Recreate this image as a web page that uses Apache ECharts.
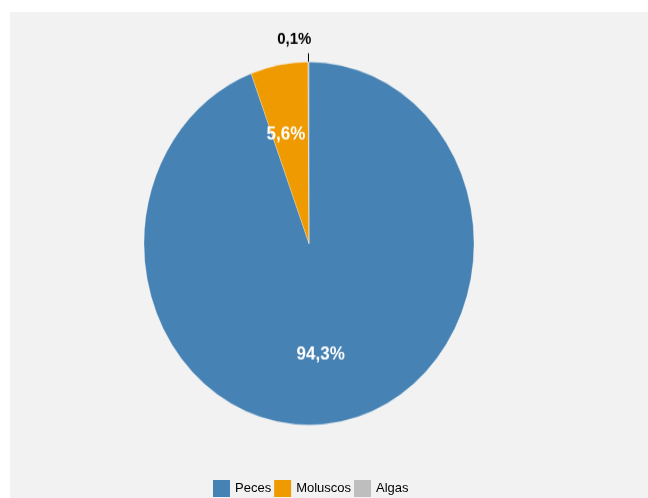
<!DOCTYPE html>
<html>
<head>
<meta charset="utf-8">
<script src="https://cdn.jsdelivr.net/npm/echarts@6/dist/echarts.min.js"></script>
<style>
  html, body { margin: 0; padding: 0; background: #fff; }
  .layer { position: absolute; left: 0; top: 0; width: 648px; height: 498px; }
  /* the reference pie is an ellipse, a bit taller than wide */
  #pie { transform: scaleY(1.1); transform-origin: 309px 243.5px; }
</style>
</head>
<body>
<div id="bg" class="layer"></div>
<div id="pie" class="layer"></div>
<script>
// datos
var categories = ['Peces', 'Moluscos', 'Algas'];
var shares = [94.3, 5.6, 0.1];
var sliceColors = ['#4682B4', '#EE9A00', '#BEBEBE'];

var pieData = categories.map(function (c, i) {
    return { name: c, value: shares[i] };
});

function pct(v) {
    return v.toFixed(1).replace('.', ',') + '%';
}

var font = 'Liberation Sans, Arial, sans-serif';

// fondo + leyenda (sin escalar)
var bgChart = echarts.init(document.getElementById('bg'));
bgChart.setOption({
    animation: false,
    color: sliceColors,
    graphic: [{
        type: 'rect',
        left: 10, top: 12,
        shape: { width: 638, height: 486 },
        style: { fill: '#F2F2F2' },
        z: -10
    }],
    legend: {
        left: 213,
        top: 480,
        padding: 0,
        itemWidth: 17,
        itemHeight: 17,
        itemGap: 3,
        icon: 'rect',
        textStyle: { fontSize: 13, color: '#000', fontFamily: font },
        data: categories
    },
    series: [{
        type: 'pie',
        center: [309, 243.5],
        radius: 0,
        silent: true,
        label: { show: false },
        labelLine: { show: false },
        data: pieData
    }]
});

// torta
var pieChart = echarts.init(document.getElementById('pie'));
pieChart.setOption({
    animation: false,
    color: sliceColors,
    series: [{
        type: 'pie',
        center: [309, 243.5],
        radius: 165,
        startAngle: 90,
        clockwise: true,
        avoidLabelOverlap: false,
        itemStyle: { borderColor: 'rgba(255,255,255,0.5)', borderWidth: 0.5 },
        label: {
            show: true,
            position: 'outside',
            distanceToLabelLine: 0,
            fontFamily: font,
            fontWeight: 'bold',
            fontSize: 15,
            color: '#000',
            formatter: function (p) {
                return p.dataIndex === 2 ? pct(p.value) : '';
            }
        },
        labelLine: {
            show: true,
            length: 8,
            length2: 0,
            lineStyle: { color: '#000', width: 1 }
        },
        labelLayout: function (p) {
            if (p.dataIndex === 2) return { dx: 3, dy: -13 };
        },
        emphasis: { disabled: true },
        data: pieData.map(function (d, i) {
            return i === 2 ? d : { name: d.name, value: d.value, labelLine: { show: false } };
        })
    }, {
        // sólo etiquetas internas
        type: 'pie',
        center: [309, 243.5],
        radius: [39, 165],
        startAngle: 90,
        clockwise: true,
        silent: true,
        avoidLabelOverlap: false,
        itemStyle: { color: 'rgba(0,0,0,0)' },
        label: {
            show: true,
            position: 'inside',
            fontFamily: font,
            fontWeight: 'bold',
            fontSize: 17,
            color: '#fff',
            formatter: function (p) {
                return p.dataIndex === 2 ? '' : pct(p.value);
            }
        },
        labelLayout: function (p) {
            if (p.dataIndex === 0) return { dx: -7, dy: -3 };
            if (p.dataIndex === 1) return { dx: -4, dy: 4 };
        },
        labelLine: { show: false },
        data: pieData
    }]
});
</script>
</body>
</html>
